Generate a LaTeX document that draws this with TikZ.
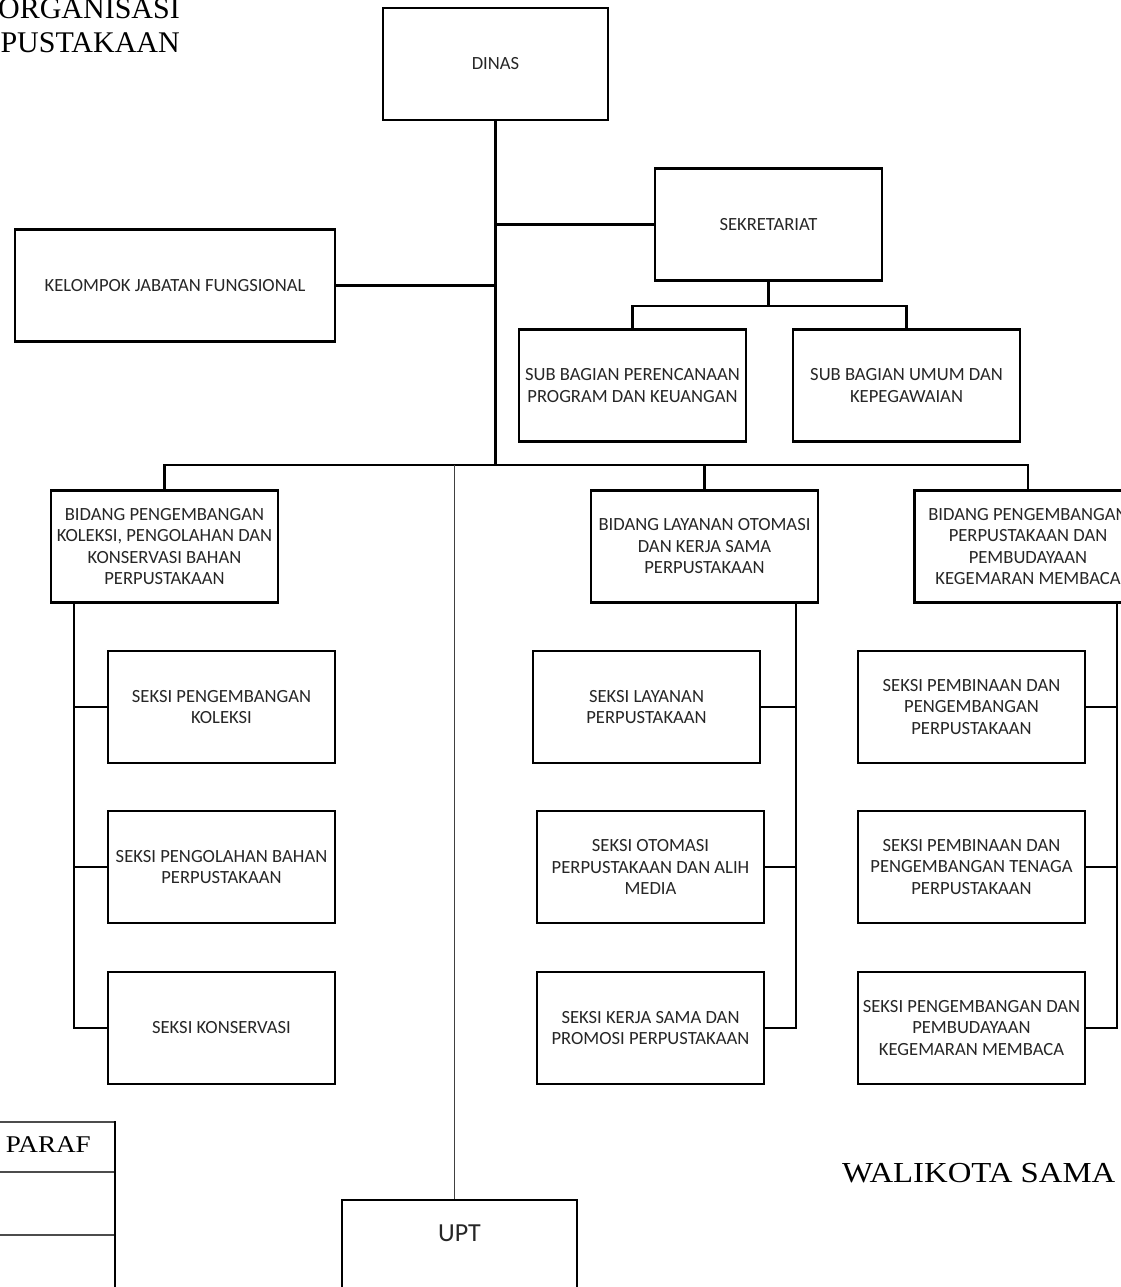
\documentclass[tikz,border=0pt]{standalone}
\usepackage{fontspec}
\newfontfamily\boxfont{Carlito}
\newfontfamily\serifttl{Liberation Serif}
\newfontfamily\serifwide[FakeStretch=1.13]{Liberation Serif}
\begin{document}
\begin{tikzpicture}[x=1pt,y=-1pt,
  orgbox/.style={draw=black, line width=2.4pt, align=center,
    font=\boxfont\fontsize{18.6}{21.5}\selectfont, text=black!85,
    inner sep=0pt, minimum width=227pt, minimum height=112pt},
  conn/.style={line width=2.6pt, line cap=rect},
  thinconn/.style={line width=1pt, draw=black!75},
  ttl/.style={font=\serifttl\fontsize{30}{36}\selectfont, inner sep=0pt},
  tbl/.style={line width=1.1pt, draw=black!70}
]
\useasboundingbox (0,0) rectangle (1121,1287);
\clip (0,0) rectangle (1121,1287);

% title fragments
\node[ttl, anchor=base east] (t1) at (180,19) {ORGANISASI};
\node[ttl, anchor=base east] (t2) at (180,53) {PUSTAKAAN};

% boxes
\node[orgbox, minimum width=225pt] (dinas) at (495.5,64) {DINAS};
\node[orgbox] (sek) at (768.5,224.5) {SEKRETARIAT};
\node[orgbox, minimum width=320pt] (kel) at (175,285.5) {KELOMPOK JABATAN FUNGSIONAL};
\node[orgbox] (sub1) at (632.5,385.5) {SUB BAGIAN PERENCANAAN\\PROGRAM DAN KEUANGAN};
\node[orgbox] (sub2) at (906.5,385.5) {SUB BAGIAN UMUM DAN\\KEPEGAWAIAN};

\node[orgbox] (bid1) at (164.5,546.5) {BIDANG PENGEMBANGAN\\KOLEKSI, PENGOLAHAN DAN\\KONSERVASI BAHAN\\PERPUSTAKAAN};
\node[orgbox] (bid2) at (704.5,546.5) {BIDANG LAYANAN OTOMASI\\DAN KERJA SAMA\\PERPUSTAKAAN};
\node[orgbox] (bid3) at (1028,546.5) {BIDANG PENGEMBANGAN\\PERPUSTAKAAN DAN\\PEMBUDAYAAN\\KEGEMARAN MEMBACA};

\node[orgbox] (s11) at (221.5,707) {SEKSI PENGEMBANGAN\\KOLEKSI};
\node[orgbox] (s12) at (221.5,867) {SEKSI PENGOLAHAN BAHAN\\PERPUSTAKAAN};
\node[orgbox] (s13) at (221.5,1028) {SEKSI KONSERVASI};

\node[orgbox] (s21) at (646.5,707) {SEKSI LAYANAN\\PERPUSTAKAAN};
\node[orgbox] (s22) at (650.5,867) {SEKSI OTOMASI\\PERPUSTAKAAN DAN ALIH\\MEDIA};
\node[orgbox] (s23) at (650.5,1028) {SEKSI KERJA SAMA DAN\\PROMOSI PERPUSTAKAAN};

\node[orgbox] (s31) at (971.5,707) {SEKSI PEMBINAAN DAN\\PENGEMBANGAN\\PERPUSTAKAAN};
\node[orgbox] (s32) at (971.5,867) {SEKSI PEMBINAAN DAN\\PENGEMBANGAN TENAGA\\PERPUSTAKAAN};
\node[orgbox] (s33) at (971.5,1028) {SEKSI PENGEMBANGAN DAN\\PEMBUDAYAAN\\KEGEMARAN MEMBACA};

\node[orgbox, minimum width=235pt] (upt) at (459.5,1256) {};
\node[font=\boxfont\fontsize{26}{30}\selectfont, text=black!85, inner sep=0pt] (upttext) at (459.5,1233) {UPT};

% coordinates
\coordinate (mainbot) at (495.5,465);
\coordinate (sekj) at (768.5,306);
\coordinate (uptline) at (454,465);
\coordinate (lv) at (74,0);
\coordinate (mv) at (796,0);
\coordinate (rv) at (1117,0);

% connectors
\draw[conn] (dinas.south) -- (mainbot);
\draw[conn] (dinas.south |- sek.west) -- (sek.west);
\draw[conn] (kel.east) -- (dinas.south |- kel.east);
\draw[conn] (sek.south) -- (sekj);
\draw[conn] (sub1.north) |- (sekj) -| (sub2.north);
\draw[conn] (bid1.north) -- (bid1.north |- mainbot) -- (bid3.north |- mainbot) -- (bid3.north);
\draw[conn] (bid2.north) -- (bid2.north |- mainbot);
\draw[thinconn] (uptline) -- (upt.north -| uptline);

\draw[conn] (bid1.south -| lv) -- (s13.west -| lv) -- (s13.west);
\draw[conn] (s11.west -| lv) -- (s11.west);
\draw[conn] (s12.west -| lv) -- (s12.west);

\draw[conn] (bid2.south -| mv) -- (s23.east -| mv) -- (s23.east);
\draw[conn] (s21.east -| mv) -- (s21.east);
\draw[conn] (s22.east -| mv) -- (s22.east);

\draw[conn] (bid3.south -| rv) -- (s33.east -| rv) -- (s33.east);
\draw[conn] (s31.east -| rv) -- (s31.east);
\draw[conn] (s32.east -| rv) -- (s32.east);

% signature table fragment
\draw[tbl] (0,1122) -- (115,1122);
\draw[tbl] (0,1172) -- (115,1172);
\draw[tbl] (0,1235) -- (115,1235);
\draw[line width=1.8pt] (115,1121) -- (115,1290);
\node[font=\serifwide\fontsize{24}{28}\selectfont, inner sep=0pt, anchor=base east] (paraf) at (91,1152) {PARAF};

\node[font=\serifwide\fontsize{29}{34}\selectfont, inner sep=0pt, anchor=base west] (wali) at (842,1182) {WALIKOTA SAMA};
\end{tikzpicture}
\end{document}
